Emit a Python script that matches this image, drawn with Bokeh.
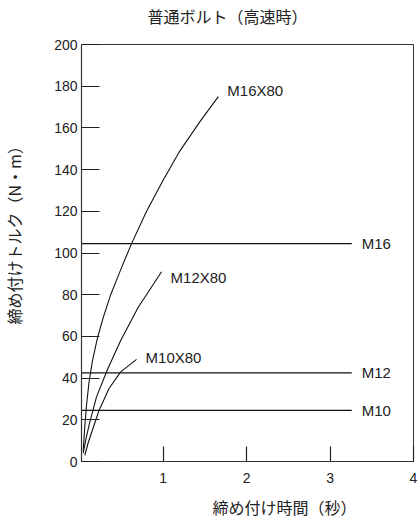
from bokeh.plotting import figure
from bokeh.models import Range1d, FixedTicker, ColumnDataSource, Title
from bokeh.core.properties import value
from bokeh.embed import file_html
from bokeh.resources import INLINE

# ---- text ----
title_text = "普通ボルト（高速時）"
x_label_text = "締め付け時間（秒）"
y_label_text = "締め付けトルク（N・m）"

# ---- ticks ----
x_ticks = [1, 2, 3, 4]
y_ticks = [0, 20, 40, 60, 80, 100, 120, 140, 160, 180, 200]

# ---- curves: tightening time (s) vs torque (N·m) ----
curve_names = ["M16X80", "M12X80", "M10X80"]
m16x80_time = [0.04, 0.06, 0.08, 0.11, 0.15, 0.21, 0.28, 0.37, 0.50, 0.62,
               0.80, 1.00, 1.20, 1.44, 1.66]
m16x80_torque = [5, 17, 27, 38, 48, 59, 69, 80, 93, 104.5,
                 120, 135, 149, 163, 175]
m12x80_time = [0.04, 0.08, 0.12, 0.20, 0.33, 0.49, 0.70, 0.98]
m12x80_torque = [4, 12, 19, 31, 44, 58, 74, 91]
m10x80_time = [0.06, 0.10, 0.15, 0.23, 0.35, 0.49, 0.68]
m10x80_torque = [3, 9, 15, 24.5, 35, 43, 49]

# ---- horizontal reference levels ----
level_names = ["M16", "M12", "M10"]
level_torque = [104.5, 42.5, 24.5]
level_time_end = 3.26

FONT = "Liberation Sans"
JFONT = "Noto Sans CJK JP"
INK = "#222222"

p = figure(width=420, height=520, output_backend="svg", toolbar_location=None,
           x_range=Range1d(0.02, 4.0), y_range=Range1d(0, 200),
           min_border_left=81, min_border_right=7, min_border_top=44,
           min_border_bottom=59)
p.title.text = ""
p.grid.visible = False
p.outline_line_color = "#333333"
p.outline_line_width = 1
p.background_fill_color = "white"
p.border_fill_color = "white"

# axes
p.xaxis.ticker = FixedTicker(ticks=x_ticks)
p.yaxis.ticker = FixedTicker(ticks=y_ticks)
for ax in (p.xaxis[0], p.yaxis[0]):
    ax.axis_line_color = "#333333"
    ax.axis_line_width = 1.2
    ax.major_tick_line_color = "#222222"
    ax.major_tick_line_width = 1.2
    ax.major_tick_out = 0
    ax.minor_tick_line_color = None
    ax.major_label_text_font = FONT
    ax.major_label_text_font_size = "14px"
    ax.major_label_text_color = INK
p.xaxis.major_tick_in = 15
p.xaxis.major_label_standoff = 11
p.yaxis.major_tick_in = 18
p.yaxis.major_label_standoff = 4

# curves
curves = [(m16x80_time, m16x80_torque), (m12x80_time, m12x80_torque),
          (m10x80_time, m10x80_torque)]
for t, q in curves:
    p.line(t, q, line_color="#111111", line_width=1.1)

# horizontal levels
for q in level_torque:
    p.line([0.02, level_time_end], [q, q], line_color="#111111", line_width=1.1)

# curve labels anchored at curve ends
curve_src = ColumnDataSource(dict(
    x=[c[0][-1] for c in curves], y=[c[1][-1] for c in curves],
    text=curve_names, dy=[-6, 6, -2]))
p.text(x="x", y="y", text="text", source=curve_src, x_offset=9, y_offset="dy",
       text_font=value(FONT), text_font_size="15px", text_color=INK,
       text_align="left", text_baseline="middle")

level_src = ColumnDataSource(dict(
    x=[level_time_end] * len(level_names), y=level_torque, text=level_names))
p.text(x="x", y="y", text="text", source=level_src, x_offset=10,
       text_font=value(FONT), text_font_size="15px", text_color=INK,
       text_align="left", text_baseline="middle")


def spacer(gap):
    return Title(text=" ", text_font_size="1px", standoff=gap)


def label(text, offset):
    return Title(text=text, text_font=JFONT, text_font_size="16px",
                 text_color=INK, text_font_style="normal", align="left",
                 offset=offset, vertical_align="top", standoff=0)


# title and axis labels as side-panel titles, with spacers nearer the frame
p.add_layout(spacer(12), "above")
p.add_layout(label(title_text, 66), "above")
p.add_layout(spacer(6), "below")
p.add_layout(label(x_label_text, 131), "below")
p.add_layout(spacer(21), "left")
p.add_layout(label(y_label_text, 137), "left")

open("out.html", "w").write(file_html(p, INLINE))
